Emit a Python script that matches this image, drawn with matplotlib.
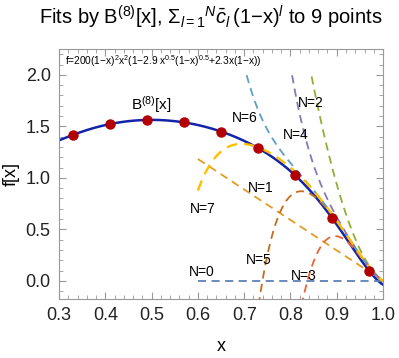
import numpy as np
import matplotlib
matplotlib.use("Agg")
import matplotlib.pyplot as plt
from matplotlib.ticker import MultipleLocator

plt.rcParams['font.family'] = ['Liberation Sans', 'DejaVu Sans']
plt.rcParams['mathtext.fontset'] = 'custom'
plt.rcParams['mathtext.rm'] = 'Liberation Sans'
plt.rcParams['mathtext.it'] = 'Liberation Sans:italic'

# data points
px = [0.33, 0.41, 0.49, 0.57, 0.65, 0.73, 0.81, 0.89, 0.97]
py = [1.416822, 1.522031, 1.562000, 1.538019, 1.449570, 1.288583, 1.024610, 0.609165, 0.096914]

fit_orders = [0, 1, 2, 3, 4, 5, 6, 7]
fit_colors = ['#5E81B5', '#E19C24', '#8FB032', '#EB6235',
              '#8778B3', '#C56E1A', '#5D9EC7', '#FFBF00']
label_pos = {0: (0.609, 0.09), 1: (0.736, 0.90), 2: (0.844, 1.73), 3: (0.829, 0.05),
             4: (0.812, 1.42), 5: (0.732, 0.20), 6: (0.702, 1.58), 7: (0.611, 0.70)}

px_a = np.array(px)
py_a = np.array(py)

# B^(8)[x] = sum_{l=0}^{8} c_l (1-x)^l interpolating the 9 points
A = np.column_stack([(1 - px_a) ** l for l in range(0, 9)])
cbar = np.linalg.solve(A, py_a)

def partial(x, n, start=1):
    return sum(cbar[l] * (1 - x) ** l for l in range(start, n + 1)) + 0 * x

fig = plt.figure(figsize=(3.99, 3.58), dpi=100)
ax = fig.add_axes([0.148, 0.165, 0.812, 0.698])

xb = np.linspace(0.3, 1.0, 400)
ax.plot(xb, partial(xb, 8, start=0), color='#1424A8', lw=1.8, zorder=2)

xf = np.linspace(0.6, 1.0, 400)
for n, c in zip(fit_orders, fit_colors):
    yf = partial(xf, n)
    yf = np.where(yf > 2.0, np.nan, yf)
    lw = 1.7 if n == 7 else 1.3
    ax.plot(xf, yf, color=c, lw=lw, dashes=(4.5, 3.0), zorder=3)
    lx, ly = label_pos[n]
    ax.text(lx, ly, f'N={n}', fontsize=10, ha='center', va='center', zorder=5)

ax.plot(px, py, 'o', color='#B20000', ms=6.5, zorder=6)

ax.text(0.499, 1.71, r'B$^{(8)}$[x]', fontsize=11, ha='center', va='center')
ax.text(0.313, 2.13, r'f=200(1$-$x)$^2$x$^2$(1$-$2.9 x$^{0.5}$(1$-$x)$^{0.5}$+2.3x(1$-$x))',
        fontsize=7.3, ha='left', va='center')

ax.set_xlim(0.3, 1.0)
ax.set_ylim(-0.175, 2.25)
ax.xaxis.set_major_locator(MultipleLocator(0.1))
ax.xaxis.set_minor_locator(MultipleLocator(0.02))
ax.yaxis.set_major_locator(MultipleLocator(0.5))
ax.yaxis.set_minor_locator(MultipleLocator(0.1))
ax.tick_params(which='both', direction='in', top=True, right=True, color='#999999',
               labelsize=13, labelcolor='#222222')
ax.tick_params(which='major', length=5, pad=6)
ax.tick_params(which='minor', length=3)
for s in ax.spines.values():
    s.set_color('#999999')
ax.set_xlabel('x', fontsize=13, labelpad=10)
ax.set_ylabel('f[x]', fontsize=13, labelpad=4)
fig.suptitle(r'Fits by B$^{(8)}$[x], $\Sigma_{l=1}$$^{N}$$\bar{c}_l\,$(1$-$x)$^{l}$ to 9 points',
             fontsize=14.5, x=0.528, y=0.99)

fig.savefig('out.png', dpi=100)
